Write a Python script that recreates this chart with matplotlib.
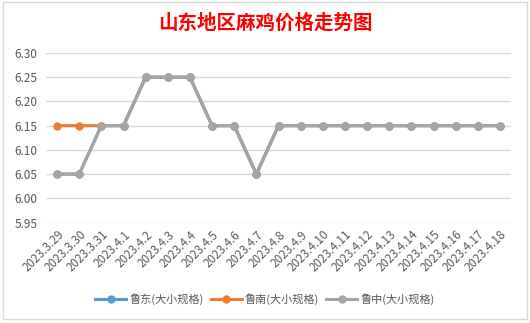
import matplotlib
matplotlib.use('Agg')
import matplotlib.pyplot as plt
from matplotlib.patches import Rectangle

plt.rcParams['font.family'] = ['Noto Sans CJK SC', 'DejaVu Sans']

dates = ['2023.3.29', '2023.3.30', '2023.3.31', '2023.4.1', '2023.4.2', '2023.4.3',
         '2023.4.4', '2023.4.5', '2023.4.6', '2023.4.7', '2023.4.8', '2023.4.9',
         '2023.4.10', '2023.4.11', '2023.4.12', '2023.4.13', '2023.4.14', '2023.4.15',
         '2023.4.16', '2023.4.17', '2023.4.18']
ludong = [6.05, 6.05, 6.15, 6.15, 6.25, 6.25, 6.25, 6.15, 6.15, 6.05, 6.15, 6.15,
          6.15, 6.15, 6.15, 6.15, 6.15, 6.15, 6.15, 6.15, 6.15]
lunan = [6.15, 6.15, 6.15, 6.15, 6.25, 6.25, 6.25, 6.15, 6.15, 6.05, 6.15, 6.15,
         6.15, 6.15, 6.15, 6.15, 6.15, 6.15, 6.15, 6.15, 6.15]
luzhong = [6.05, 6.05, 6.15, 6.15, 6.25, 6.25, 6.25, 6.15, 6.15, 6.05, 6.15, 6.15,
           6.15, 6.15, 6.15, 6.15, 6.15, 6.15, 6.15, 6.15, 6.15]
yticks = [5.95, 6.00, 6.05, 6.10, 6.15, 6.20, 6.25, 6.30]

fig = plt.figure(figsize=(5.3, 3.23), dpi=100)
fig.patches.append(Rectangle((2.5 / 530, 4 / 323), 524.5 / 530, 317 / 323,
                             transform=fig.transFigure, fill=False,
                             edgecolor='#D9D9D9', lw=1))
ax = fig.add_axes([46 / 530, 1 - 222.5 / 323, 465 / 530, 169.5 / 323])

x = list(range(len(dates)))
ax.plot(x, ludong, color='#5B9BD5', lw=2.2, marker='o', ms=5, label='鲁东(大小规格)')
ax.plot(x, lunan, color='#ED7D31', lw=2.2, marker='o', ms=5, label='鲁南(大小规格)')
ax.plot(x, luzhong, color='#A5A5A5', lw=2.2, marker='o', ms=5, label='鲁中(大小规格)')

ax.set_xlim(-0.5, len(dates) - 0.5)
ax.set_ylim(5.95, 6.30)
ax.set_yticks(yticks)
ax.set_yticklabels(['%.2f' % v for v in yticks])
ax.set_xticks(x)
ax.set_xticklabels(dates, rotation=45, ha='right', rotation_mode='anchor')
ax.tick_params(axis='both', length=0, labelsize=8.5, colors='#595959')
ax.tick_params(axis='x', pad=4)
ax.tick_params(axis='y', pad=6)
ax.grid(axis='y', color='#D9D9D9', lw=1)
ax.set_axisbelow(True)
for s in ax.spines.values():
    s.set_visible(False)

fig.text(0.5, 1 - 23 / 323, '山东地区麻鸡价格走势图', color='#FF0000', fontsize=14,
         fontweight='bold', ha='center', va='center')
fig.legend(loc='center', bbox_to_anchor=(0.5, 1 - 299 / 323), ncol=3, frameon=False,
           fontsize=8, handlelength=2.8, columnspacing=0.6, handletextpad=0.3,
           labelcolor='#595959')

fig.savefig('out.png', dpi=100)
